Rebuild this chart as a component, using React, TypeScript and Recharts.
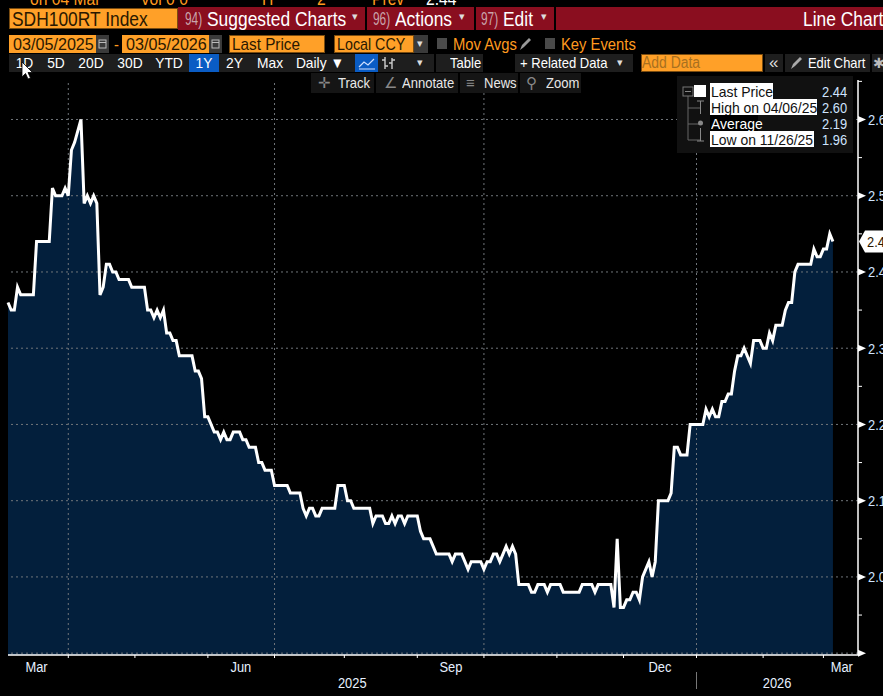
import React from "react";
import { ComposedChart, Area, Line, XAxis, YAxis, ReferenceLine, ReferenceDot } from "recharts";

const prices = [
  2.36, 2.35, 2.35, 2.38, 2.37, 2.37, 2.37, 2.37, 2.37, 2.44,
  2.44, 2.44, 2.44, 2.44, 2.51, 2.5, 2.5, 2.5, 2.51, 2.5,
  2.56, 2.57, 2.585, 2.6, 2.49, 2.5, 2.49, 2.5, 2.49, 2.37,
  2.38, 2.41, 2.41, 2.4, 2.4, 2.39, 2.39, 2.39, 2.39, 2.38,
  2.38, 2.38, 2.38, 2.38, 2.35, 2.35, 2.34, 2.35, 2.34, 2.35,
  2.32, 2.32, 2.31, 2.31, 2.29, 2.29, 2.29, 2.29, 2.29, 2.27,
  2.27, 2.26, 2.21, 2.21, 2.2, 2.19, 2.19, 2.18, 2.19, 2.18,
  2.18, 2.19, 2.19, 2.19, 2.18, 2.18, 2.17, 2.17, 2.17, 2.15,
  2.15, 2.14, 2.14, 2.14, 2.12, 2.12, 2.12, 2.12, 2.12, 2.11,
  2.11, 2.11, 2.11, 2.09, 2.08, 2.09, 2.09, 2.08, 2.08, 2.09,
  2.09, 2.09, 2.09, 2.09, 2.12, 2.12, 2.12, 2.1, 2.1, 2.09,
  2.09, 2.09, 2.09, 2.09, 2.09, 2.07, 2.08, 2.08, 2.08, 2.07,
  2.07, 2.08, 2.07, 2.08, 2.08, 2.07, 2.08, 2.08, 2.08, 2.08,
  2.06, 2.05, 2.05, 2.05, 2.04, 2.03, 2.03, 2.03, 2.03, 2.03,
  2.02, 2.03, 2.03, 2.03, 2.02, 2.01, 2.02, 2.02, 2.02, 2.02,
  2.01, 2.02, 2.02, 2.03, 2.03, 2.02, 2.03, 2.04, 2.03, 2.04,
  2.03, 1.99, 1.99, 1.99, 1.99, 1.98, 1.98, 1.99, 1.99, 1.99,
  1.98, 1.99, 1.99, 1.99, 1.99, 1.98, 1.98, 1.98, 1.98, 1.98,
  1.98, 1.99, 1.99, 1.99, 1.99, 1.98, 1.99, 1.99, 1.99, 1.99,
  1.99, 1.96, 2.05, 1.96, 1.96, 1.97, 1.97, 1.98, 1.98, 1.97,
  2.0, 2.01, 2.02, 2.0, 2.02, 2.1, 2.1, 2.1, 2.1, 2.11,
  2.17, 2.17, 2.16, 2.16, 2.16, 2.2, 2.2, 2.2, 2.2, 2.2,
  2.22, 2.21, 2.22, 2.21, 2.21, 2.23, 2.23, 2.24, 2.24, 2.27,
  2.29, 2.29, 2.3, 2.29, 2.28, 2.31, 2.31, 2.31, 2.3, 2.3,
  2.32, 2.31, 2.33, 2.33, 2.33, 2.35, 2.36, 2.36, 2.4, 2.41,
  2.41, 2.41, 2.41, 2.41, 2.43, 2.42, 2.42, 2.43, 2.43, 2.45,
  2.44,
];
const monthTicks = [19, 40, 63, 84, 106, 129, 150, 173, 194, 217, 238, 257];
const quarterLines = [19, 84, 150, 217];
const monthLabelAt = [9, 73.4, 139.6, 205.5, 262.8];
const monthLabels = ["Mar", "Jun", "Sep", "Dec", "Mar"];
const yearLabelAt = [108.5, 242.4];
const yearLabels = ["2025", "2026"];
const yMajor = [1.9, 2.0, 2.1, 2.2, 2.3, 2.4, 2.5, 2.6];
const yMinor = [1.95, 2.05, 2.15, 2.25, 2.35, 2.45, 2.55, 2.65];
const lastPrice = 2.44;
const legendRows = [
  { label: "Last Price", value: "2.44", w: 63 },
  { label: "High on 04/06/25", value: "2.60", w: 107 },
  { label: "Average", value: "2.19", w: 48 },
  { label: "Low on 11/26/25", value: "1.96", w: 104 },
];
const rangeButtons = [
  { t: "1D", x: 9, w: 31 },
  { t: "5D", x: 41, w: 30 },
  { t: "20D", x: 72, w: 38 },
  { t: "30D", x: 111, w: 38 },
  { t: "YTD", x: 150, w: 38 },
  { t: "1Y", x: 189, w: 30, on: true },
  { t: "2Y", x: 220, w: 29 },
  { t: "Max", x: 250, w: 40 },
  { t: "Daily ▼", x: 291, w: 58 },
];

const X_MAX = 267.9;
const Y_MIN = 1.8976;
const Y_MAX = 2.6518;
const FONT = "'Liberation Sans', sans-serif";
const TICK_BLUE = "#cfe4ff";
const ORANGE = "#ffa028";
const ORANGE_TXT = "#ff9a1f";
const MAROON = "#8a0e1f";
const BTN = "#1e1e1e";
const GRID = "#70757a";

const rows = prices.map((p, i) => ({ i, p }));
const yTicks = [...yMajor, ...yMinor].sort((a, b) => a - b);

function Narrow({ x, y, fill, size, anchor, children, sx = 0.86 }: any) {
  return (
    <text
      transform={`translate(${x},${y}) scale(${sx},1)`}
      fill={fill}
      fontSize={size}
      textAnchor={anchor}
      fontFamily={FONT}
    >
      {children}
    </text>
  );
}
function YTick(props: any) {
  const { x, y, payload } = props;
  const v = payload.value;
  const major = yMajor.some((m) => Math.abs(m - v) < 1e-6);
  if (!major) return <line x1={x} x2={x + 4} y1={y} y2={y} stroke="#fff" strokeWidth={1} />;
  return (
    <g>
      <polygon points={`${x},${y - 3.5} ${x + 8},${y} ${x},${y + 3.5}`} fill="#fff" />
      {v > 1.95 && (
        <Narrow x={x + 10} y={y + 5.5} fill={TICK_BLUE} size={15}>
          {v.toFixed(1)}
        </Narrow>
      )}
    </g>
  );
}
function MonthMark(props: any) {
  const { x, y } = props;
  return <line x1={x} x2={x} y1={y} y2={y + 3} stroke="#fff" strokeWidth={1} />;
}
function MonthTick(props: any) {
  const { x, y, payload } = props;
  const idx = monthLabelAt.indexOf(payload.value);
  return (
    <Narrow x={x} y={y - 5} fill="#e6f0ff" size={15} anchor="middle">
      {monthLabels[idx]}
    </Narrow>
  );
}
function YearTick(props: any) {
  const { x, y, payload } = props;
  const idx = yearLabelAt.indexOf(payload.value);
  return (
    <Narrow x={x} y={y - 3} fill="#e6f0ff" size={15} anchor="middle">
      {yearLabels[idx]}
    </Narrow>
  );
}
function LastTag(props: any) {
  const { cx, cy } = props;
  const x = cx + 1;
  return (
    <g>
      <path
        d={`M${x},${cy} L${x + 6},${cy - 11} H${x + 30} V${cy + 11} H${x + 6} Z`}
        fill="#fff"
      />
      <Narrow x={x + 8} y={cy + 5.5} fill="#2a1800" size={15}>
        {lastPrice.toFixed(2)}
      </Narrow>
    </g>
  );
}

function Box({ x, y, w, h, bg, border }: any) {
  return (
    <div
      style={{
        position: "absolute",
        left: x,
        top: y,
        width: w,
        height: h,
        background: bg,
        boxSizing: "border-box",
        border: border ? `1px solid ${border}` : undefined,
      }}
    />
  );
}
function Txt({ x, y, s, c, children, sx = 0.87, w, center }: any) {
  return (
    <div
      style={{
        position: "absolute",
        left: x,
        top: y,
        width: w,
        fontSize: s,
        color: c,
        fontFamily: FONT,
        lineHeight: `${s + 2}px`,
        whiteSpace: "nowrap",
        textAlign: center ? "center" : "left",
        transform: `scaleX(${sx})`,
        transformOrigin: center ? "50% 50%" : "0 50%",
      }}
    >
      {children}
    </div>
  );
}
function Calendar({ x }: any) {
  return (
    <svg style={{ position: "absolute", left: x, top: 35 }} width={13} height={18}>
      <rect width={13} height={18} fill="#3a3a3a" />
      <rect x={3} y={5} width={7} height={8} fill="none" stroke="#bbb" />
      <path d="M3 7.5 H10" stroke="#bbb" />
    </svg>
  );
}

function Toolbars() {
  return (
    <div style={{ position: "absolute", left: 0, top: 0, width: 883, height: 94 }}>
      <Txt x={30} y={-11} s={18} c={ORANGE_TXT}>on 04 Mar</Txt>
      <Txt x={140} y={-11} s={18} c={ORANGE_TXT}>Vol 0 0</Txt>
      <Txt x={262} y={-11} s={18} c={ORANGE_TXT}>H</Txt>
      <Txt x={317} y={-11} s={18} c={ORANGE_TXT}>2</Txt>
      <Txt x={372} y={-11} s={18} c={ORANGE_TXT}>Prev</Txt>
      <Txt x={426} y={-11} s={18} c="#fff">2.44</Txt>

      <Box x={178} y={7} w={705} h={23} bg={MAROON} />
      <Box x={9} y={8} w={169} h={21} bg={ORANGE} border="#7a4c10" />
      <Box x={365} y={7} w={2} h={23} bg="#000" />
      <Box x={474} y={7} w={2} h={23} bg="#000" />
      <Box x={554} y={7} w={2} h={23} bg="#000" />
      <Txt x={12} y={8} s={20} c="#2a1800">SDH100RT Index</Txt>
      <Txt x={185} y={9} s={18} c="#c9a4ab" sx={0.66}>94)</Txt>
      <Txt x={207} y={8} s={20} c="#fff">Suggested Charts</Txt>
      <Txt x={352} y={10} s={11} c="#ddd" sx={1}>▾</Txt>
      <Txt x={373} y={9} s={18} c="#c9a4ab" sx={0.66}>96)</Txt>
      <Txt x={395} y={8} s={20} c="#fff">Actions</Txt>
      <Txt x={459} y={10} s={11} c="#ddd" sx={1}>▾</Txt>
      <Txt x={481} y={9} s={18} c="#c9a4ab" sx={0.66}>97)</Txt>
      <Txt x={503} y={8} s={20} c="#fff">Edit</Txt>
      <Txt x={541} y={10} s={11} c="#ddd" sx={1}>▾</Txt>
      <Txt x={803} y={8} s={20} c="#fff">Line Chart</Txt>

      <Box x={9} y={35} w={87} h={18} bg={ORANGE} />
      <Calendar x={96} />
      <Txt x={13} y={35} s={17} c="#2a1800" sx={0.95}>03/05/2025</Txt>
      <Txt x={114} y={35} s={17} c={ORANGE_TXT}>-</Txt>
      <Box x={122} y={35} w={87} h={18} bg={ORANGE} />
      <Calendar x={209} />
      <Txt x={126} y={35} s={17} c="#2a1800" sx={0.95}>03/05/2026</Txt>
      <Box x={229} y={35} w={96} h={18} bg={ORANGE} border="#7a4c10" />
      <Txt x={232} y={35} s={17} c="#2a1800" sx={0.9}>Last Price</Txt>
      <Box x={334} y={35} w={80} h={18} bg={ORANGE} border="#7a4c10" />
      <Txt x={337} y={35} s={17} c="#2a1800" sx={0.84}>Local CCY</Txt>
      <Box x={414} y={35} w={14} h={18} bg="#3a3a3a" />
      <Txt x={417} y={37} s={11} c="#ddd" sx={1}>▾</Txt>
      <Box x={437} y={38} w={10} h={11} bg="#4a4a4a" />
      <Txt x={453} y={35} s={17} c={ORANGE_TXT}>Mov Avgs</Txt>
      <svg style={{ position: "absolute", left: 519, top: 37 }} width={13} height={14}>
        <path d="M1 13 L3 8 L10 1 L12 3 L5 10 Z" fill="#999" />
      </svg>
      <Box x={545} y={38} w={10} h={11} bg="#4a4a4a" />
      <Txt x={561} y={35} s={17} c={ORANGE_TXT}>Key Events</Txt>

      <Box x={9} y={54} w={425} h={18} bg={BTN} />
      {rangeButtons.map((b) => (
        <React.Fragment key={b.t}>
          <Box x={b.x} y={54} w={b.w} h={18} bg={b.on ? "#0a5cc4" : BTN} />
          <Txt x={b.x} y={54} s={15} c="#fff" w={b.w} center sx={0.92}>{b.t}</Txt>
        </React.Fragment>
      ))}
      <Box x={355} y={54} w={23} h={18} bg="#0a5cc4" />
      <svg style={{ position: "absolute", left: 355, top: 54 }} width={48} height={18}>
        <path d="M4 13 L9 8 L13 11 L19 5 M4 15 H20" stroke="#cfe0ff" fill="none" strokeWidth={1.2} />
        <path d="M30 3 V15 M27 6 H30 M30 12 H33 M37 4 V15 M34 9 H37 M37 6 H40" stroke="#ccc" fill="none" strokeWidth={1.4} />
      </svg>
      <Txt x={417} y={56} s={11} c="#ddd" sx={1}>▾</Txt>
      <Box x={436} y={54} w={47} h={18} bg={BTN} />
      <Txt x={450} y={54} s={15} c="#fff">Table</Txt>
      <Box x={515} y={54} w={118} h={18} bg={BTN} />
      <Txt x={520} y={54} s={15} c="#fff">+ Related Data</Txt>
      <Txt x={617} y={56} s={11} c="#ddd" sx={1}>▾</Txt>
      <Box x={641} y={54} w={122} h={18} bg={ORANGE} border="#7a4c10" />
      <Txt x={642} y={54} s={16} c="#a87020">Add Data</Txt>
      <Box x={765} y={54} w={18} h={18} bg={BTN} />
      <Txt x={769} y={53} s={17} c="#ddd" sx={1}>«</Txt>
      <Box x={785} y={54} w={85} h={18} bg={BTN} />
      <svg style={{ position: "absolute", left: 790, top: 56 }} width={13} height={14}>
        <path d="M1 13 L3 8 L10 1 L12 3 L5 10 Z" fill="#aaa" />
      </svg>
      <Txt x={808} y={54} s={15} c="#fff" sx={0.86}>Edit Chart</Txt>
      <Box x={872} y={54} w={11} h={18} bg={BTN} />
      <Txt x={873} y={55} s={14} c="#bbb" sx={1}>✱</Txt>

      <Box x={311} y={73} w={270} h={20} bg="#151515" />
      <Txt x={318} y={74} s={15} c="#888" sx={1}>✛</Txt>
      <Txt x={338} y={74} s={15} c="#e8e8e8">Track</Txt>
      <Box x={374} y={73} w={2} h={20} bg="#000" />
      <Txt x={384} y={74} s={15} c="#888" sx={1}>∠</Txt>
      <Txt x={402} y={74} s={15} c="#e8e8e8">Annotate</Txt>
      <Box x={458} y={73} w={2} h={20} bg="#000" />
      <Txt x={466} y={74} s={15} c="#888" sx={1}>≡</Txt>
      <Txt x={484} y={74} s={15} c="#e8e8e8">News</Txt>
      <Box x={518} y={73} w={2} h={20} bg="#000" />
      <Txt x={526} y={74} s={15} c="#888" sx={1}>⚲</Txt>
      <Txt x={546} y={74} s={15} c="#e8e8e8">Zoom</Txt>
    </div>
  );
}

function Legend() {
  return (
    <div style={{ position: "absolute", left: 0, top: 0 }}>
      <Box x={677} y={76} w={176} h={77} bg="#111" />
      <svg style={{ position: "absolute", left: 680, top: 84 }} width={28} height={66}>
        <path d="M8 8 V56 H20 M8 24 H20 M8 40 H20" stroke="#666" fill="none" />
        <rect x={3} y={3} width={10} height={9} fill="#111" stroke="#777" />
        <path d="M5 7.5 H11 M17 17 H24 M20.5 17 V30 M17 57 H24 M20.5 44 V57" stroke="#888" fill="none" />
        <circle cx={20.5} cy={39} r={2.5} fill="#888" />
      </svg>
      <Box x={694} y={85} w={12} h={12} bg="#fff" />
      {legendRows.map((r, k) => (
        <React.Fragment key={r.label}>
          <Box x={710} y={83 + k * 16} w={r.w} h={16} bg={k === 2 ? "#000" : "#fff"} />
          <Txt x={711} y={83 + k * 16} s={15} c={k === 2 ? "#fff" : "#111"} sx={0.93}>{r.label}</Txt>
          <Txt x={822} y={83 + k * 16} s={15} c={TICK_BLUE} sx={0.86}>{r.value}</Txt>
        </React.Fragment>
      ))}
      <svg style={{ position: "absolute", left: 21, top: 61 }} width={14} height={20}>
        <path d="M1 1 V16 L4.5 12.5 L7 18 L9.5 17 L7 11.5 L11.5 11.5 Z" fill="#fff" stroke="#000" strokeWidth={0.8} />
      </svg>
    </div>
  );
}

export default function App() {
  return (
    <div
      style={{
        position: "absolute",
        left: 0,
        top: 0,
        width: 883,
        height: 696,
        overflow: "hidden",
        background: "#000",
      }}
    >
      <ComposedChart
        width={883}
        height={696}
        data={rows}
        margin={{ top: 80, left: 8, right: 0, bottom: 0 }}
        style={{ position: "absolute", left: 0, top: 0 }}
      >
        <XAxis
          dataKey="i"
          type="number"
          domain={[0, X_MAX]}
          ticks={monthTicks}
          interval={0}
          height={14}
          tickSize={0}
          tickMargin={0}
          tick={<MonthMark />}
          axisLine={{ stroke: "#fff", strokeWidth: 1.5 }}
          tickLine={false}
        />
        <XAxis
          xAxisId="months"
          dataKey="i"
          type="number"
          domain={[0, X_MAX]}
          ticks={monthLabelAt}
          interval={0}
          height={14}
          tick={<MonthTick />}
          axisLine={false}
          tickLine={false}
        />
        <XAxis
          xAxisId="years"
          dataKey="i"
          type="number"
          domain={[0, X_MAX]}
          ticks={yearLabelAt}
          interval={0}
          height={13}
          tick={<YearTick />}
          axisLine={false}
          tickLine={false}
        />
        <YAxis
          orientation="right"
          type="number"
          domain={[Y_MIN, Y_MAX]}
          allowDataOverflow
          ticks={yTicks}
          interval={0}
          width={25}
          tickSize={0}
          tickMargin={0}
          tick={<YTick />}
          axisLine={{ stroke: "#fff", strokeWidth: 1.5 }}
          tickLine={false}
        />
        <Area
          dataKey="p"
          type="linear"
          stroke="none"
          fill="#031f3c"
          fillOpacity={1}
          isAnimationActive={false}
          dot={false}
          activeDot={false}
        />
        {yMajor.map((v) => (
          <ReferenceLine key={v} y={v} stroke={GRID} strokeDasharray="2 3" strokeWidth={1} />
        ))}
        {quarterLines.map((v) => (
          <ReferenceLine key={v} x={v} stroke={GRID} strokeDasharray="2 3" strokeWidth={1} />
        ))}
        <Line
          dataKey="p"
          type="linear"
          stroke="#fff"
          strokeWidth={3}
          dot={false}
          activeDot={false}
          isAnimationActive={false}
        />
        <ReferenceDot x={X_MAX} y={lastPrice} shape={<LastTag />} ifOverflow="visible" />
      </ComposedChart>
      <Box x={696} y={672} w={1} h={17} bg="#777" />
      <Toolbars />
      <Legend />
    </div>
  );
}
